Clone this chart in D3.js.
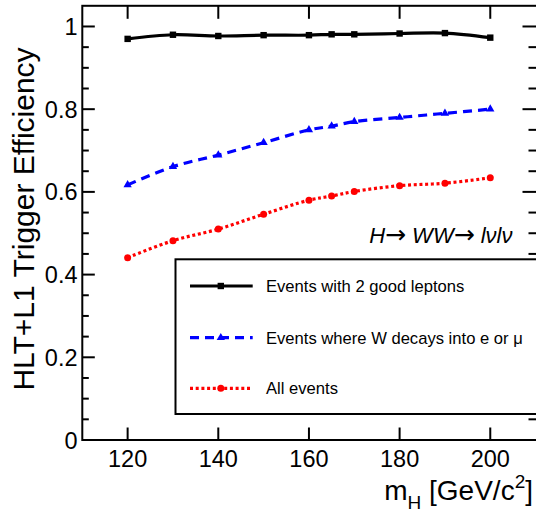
<!DOCTYPE html>
<html>
<head>
<meta charset="utf-8">
<script src="https://cdn.jsdelivr.net/npm/d3@7"></script>
<style>
  html, body { margin: 0; padding: 0; background: #fff; }
  svg { display: block; }
  text { font-family: "Liberation Sans", Arial, sans-serif; }
</style>
</head>
<body>
<svg id="chart" width="536" height="514"></svg>
<script>
// ---- data ----
const masses = [120, 130, 140, 150, 160, 165, 170, 180, 190, 200];
const goodLeptons = [0.970, 0.980, 0.977, 0.979, 0.979, 0.981, 0.981, 0.983, 0.984, 0.973];
const wToEMu = [0.617, 0.661, 0.689, 0.719, 0.750, 0.759, 0.770, 0.780, 0.790, 0.800];
const allEvents = [0.441, 0.482, 0.510, 0.546, 0.580, 0.590, 0.601, 0.615, 0.621, 0.634];
const xTicks = [120, 140, 160, 180, 200];
const yTicks = [0, 0.2, 0.4, 0.6, 0.8, 1];
const yTickLabels = ["0", "0.2", "0.4", "0.6", "0.8", "1"];
const legendLabels = ["Events with 2 good leptons", "Events where W decays into e or \u03bc", "All events"];

const svg = d3.select("#chart");
const L = 82.3, R = 537.5, T = 5.8, B = 440;
const x = d3.scaleLinear().domain([110, 210]).range([82.3, 535.6]);
const y = d3.scaleLinear().domain([0, 1.05]).range([B, T]);

// frame
svg.append("rect").attr("x", L).attr("y", T).attr("width", R - L).attr("height", B - T)
  .attr("fill", "none").attr("stroke", "#000").attr("stroke-width", 2);

// y ticks (major + minor), left and right
const yMinor = d3.range(0, 1.0001, 0.05);
const tickG = svg.append("g").attr("stroke", "#000").attr("stroke-width", 2);
yMinor.forEach(v => {
  const isMajor = Math.abs(Math.round(v * 5) - v * 5) < 1e-6;
  const len = isMajor ? 12.5 : 6.5;
  tickG.append("line").attr("x1", L).attr("x2", L + len).attr("y1", y(v)).attr("y2", y(v));
  tickG.append("line").attr("x1", 536).attr("x2", 536 - len - 1).attr("y1", y(v)).attr("y2", y(v));
});
xTicks.forEach(v => {
  tickG.append("line").attr("x1", x(v)).attr("x2", x(v)).attr("y1", B).attr("y2", B - 12.5);
  tickG.append("line").attr("x1", x(v)).attr("x2", x(v)).attr("y1", T).attr("y2", T + 13);
});

// tick labels
svg.append("g").selectAll("text").data(yTicks).join("text")
  .attr("x", 77.5).attr("y", d => y(d) + 8.5)
  .attr("text-anchor", "end").attr("font-size", 23.5)
  .text((d, i) => yTickLabels[i]);
svg.append("g").selectAll("text").data(xTicks).join("text")
  .attr("x", d => x(d)).attr("y", 467)
  .attr("text-anchor", "middle").attr("font-size", 23.5)
  .text(d => d);

// axis titles
svg.append("text").attr("transform", "translate(33.5,219) rotate(-90)")
  .attr("text-anchor", "middle").attr("font-size", 30)
  .text("HLT+L1 Trigger Efficiency");
const xt = svg.append("text").attr("x", 533).attr("y", 500).attr("text-anchor", "end").attr("font-size", 28);
xt.append("tspan").text("m");
xt.append("tspan").attr("font-size", 19).attr("dy", 9).text("H");
xt.append("tspan").attr("dy", -9).text(" [GeV/c");
xt.append("tspan").attr("font-size", 19).attr("dy", -12).text("2");
xt.append("tspan").attr("dy", 12).text("]");

// series
const series = [
  { vals: goodLeptons, color: "#000", dash: null, marker: "square" },
  { vals: wToEMu, color: "#0000ff", dash: "9,6", marker: "triangle" },
  { vals: allEvents, color: "#ff0000", dash: "3,2.7", marker: "circle" }
];
const line = d3.line().x(d => x(d[0])).y(d => y(d[1])).curve(d3.curveCatmullRom.alpha(0.5));

function drawMarker(g, type, cx, cy, color) {
  if (type === "square") {
    g.append("rect").attr("x", cx - 3.2).attr("y", cy - 3.2).attr("width", 6.4).attr("height", 6.4).attr("fill", color);
  } else if (type === "triangle") {
    g.append("path").attr("d", d3.symbol().type(d3.symbolTriangle).size(30)()).attr("transform", `translate(${cx},${cy})`).attr("fill", color);
  } else {
    g.append("circle").attr("cx", cx).attr("cy", cy).attr("r", 3.5).attr("fill", color);
  }
}

series.forEach(s => {
  const pts = masses.map((m, i) => [m, s.vals[i]]);
  const p = svg.append("path").attr("d", line(pts)).attr("fill", "none")
    .attr("stroke", s.color).attr("stroke-width", 3.2);
  if (s.dash) p.attr("stroke-dasharray", s.dash);
  const g = svg.append("g");
  pts.forEach(d => drawMarker(g, s.marker, x(d[0]), y(d[1]), s.color));
});

// annotation
const ann = svg.append("text").attr("x", 512.5).attr("y", 243).attr("text-anchor", "end")
  .attr("font-size", 22).attr("font-style", "italic");
ann.append("tspan").text("H");
ann.append("tspan").attr("font-family", "DejaVu Sans").attr("font-style", "normal").attr("font-size", 25).text("\u2192");
ann.append("tspan").text(" WW");
ann.append("tspan").attr("font-family", "DejaVu Sans").attr("font-style", "normal").attr("font-size", 25).text("\u2192");
ann.append("tspan").text(" l\u03bdl\u03bd");

// legend
svg.append("rect").attr("x", 175.5).attr("y", 259.3).attr("width", 380).attr("height", 154.7)
  .attr("fill", "#fff").attr("stroke", "#000").attr("stroke-width", 2);
const legY = [286, 337.7, 388.3];
series.forEach((s, i) => {
  const ly = legY[i];
  const p = svg.append("line").attr("x1", 190).attr("x2", 252.7).attr("y1", ly).attr("y2", ly)
    .attr("stroke", s.color).attr("stroke-width", 3.2);
  if (s.dash) p.attr("stroke-dasharray", s.dash);
  drawMarker(svg, s.marker, 220.8, ly, s.color);
  svg.append("text").attr("x", 266).attr("y", ly + 5.8).attr("font-size", 16.6).text(legendLabels[i]);
});
</script>
</body>
</html>
